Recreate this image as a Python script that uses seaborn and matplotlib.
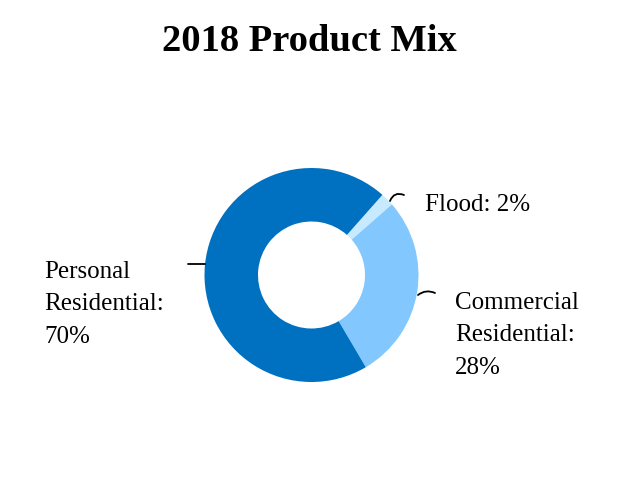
import matplotlib
matplotlib.use("Agg")
import matplotlib.pyplot as plt
import seaborn as sns

categories = ["Flood", "Commercial Residential", "Personal Residential"]
shares = [2, 28, 70]
label_texts = ["Flood: 2%", "Commercial\nResidential:\n28%", "Personal\nResidential:\n70%"]
colors = ["#C8EAFF", "#82C8FF", "#0070C0"]

sns.set_theme(style="white")
plt.rcParams["font.family"] = ["Liberation Serif", "DejaVu Serif"]

W, H = 624, 480
fig = plt.figure(figsize=(W / 100, H / 100), dpi=100)
fig.patch.set_facecolor("white")

cx, cy, R = 311.5, 275, 107
ax = fig.add_axes([(cx - R) / W, (H - cy - R) / H, 2 * R / W, 2 * R / H])
wedges, _ = ax.pie(shares, colors=colors, startangle=48.5, counterclock=False,
                   radius=1.0, wedgeprops=dict(width=0.5, linewidth=0))
ax.set_xlim(-1, 1)
ax.set_ylim(-1, 1)
ax.set_aspect("equal")
ax.axis("off")

def px(x, y):
    return x / W, (H - y) / H

# title
fig.text(*px(309, 51), "2018 Product Mix", ha="center", va="baseline",
         fontsize=27.7, fontweight="bold", color="black")

# labels (va='baseline' aligns the last line of multi-line text)
fig.text(*px(425, 211), label_texts[0], ha="left", va="baseline", fontsize=18, color="black")
fig.text(*px(455, 374), label_texts[1], ha="left", va="baseline", fontsize=18,
         color="black", linespacing=1.62)
fig.text(*px(44, 343), label_texts[2], ha="left", va="baseline", fontsize=18,
         color="black", linespacing=1.62)

# leader lines
from matplotlib.patches import FancyArrowPatch
def leader(p0, p1, rad):
    a = FancyArrowPatch(px(*p0), px(*p1), transform=fig.transFigure,
                        connectionstyle=f"arc3,rad={rad}", arrowstyle="-",
                        color="black", linewidth=1.3, shrinkA=0, shrinkB=0)
    fig.add_artist(a)

leader((390, 201), (404, 195), -0.5)
leader((418, 295), (435, 293), -0.3)
leader((188, 264), (205, 264), 0.0)

fig.savefig("out.png", dpi=100, facecolor="white")
